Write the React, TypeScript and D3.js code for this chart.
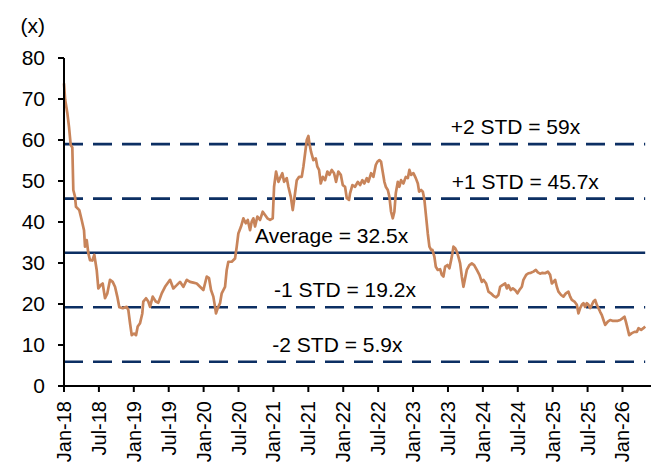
import React from "react";
import * as d3 from "d3";

// Months elapsed since Jan-2018, and forward P/E multiple (x)
const monthOffsets = [
  0.0, 0.2, 0.57, 0.86, 1.15, 1.43, 1.6, 1.89, 2.06, 2.63, 3.04, 3.44, 3.61, 3.9, 4.18, 4.47, 4.87, 5.21, 5.62, 5.9,
  6.31, 6.65, 7.05, 7.45, 7.91, 8.37, 8.77, 9.16, 9.51, 10.09, 10.78, 11.06, 11.35, 11.64, 12.04, 12.38, 12.67, 13.07, 13.46, 13.63,
  14.1, 14.49, 14.79, 15.25, 15.77, 16.21, 16.8, 17.37, 18.23, 18.79, 19.38, 19.94, 20.51, 21.1, 21.66, 22.23, 22.82, 23.38, 23.95, 24.24,
  24.54, 24.93, 25.27, 25.67, 25.96, 26.13, 26.43, 26.82, 27.11, 27.68, 27.97, 28.25, 28.83, 29.4, 29.69, 29.97, 30.43, 30.83, 31.24, 31.59,
  31.98, 32.27, 32.55, 32.84, 33.24, 33.7, 34.16, 34.56, 34.96, 35.42, 35.88, 36.11, 36.45, 36.85, 37.14, 37.53, 37.83, 38.29, 38.57, 38.98,
  39.32, 39.6, 40.01, 40.41, 40.87, 41.15, 41.44, 41.73, 42.01, 42.18, 42.47, 42.86, 43.28, 43.55, 43.84, 44.14, 44.48, 44.88, 45.27, 45.62,
  46.03, 46.42, 46.77, 47.16, 47.58, 47.92, 48.31, 48.61, 49.0, 49.17, 49.57, 50.03, 50.5, 50.89, 51.29, 51.63, 52.05, 52.32, 52.79, 53.18,
  53.59, 53.87, 54.21, 54.5, 54.73, 55.07, 55.31, 55.66, 55.93, 56.22, 56.52, 56.79, 57.03, 57.38, 57.65, 57.94, 58.34, 58.75, 59.1, 59.37,
  59.66, 60.06, 60.47, 60.82, 61.04, 61.38, 61.68, 61.95, 62.24, 62.53, 62.81, 63.1, 63.33, 63.67, 63.91, 64.25, 64.65, 64.94, 65.22, 65.51,
  65.91, 66.25, 66.54, 66.77, 66.94, 67.23, 67.52, 67.8, 68.09, 68.38, 68.66, 68.95, 69.24, 69.69, 70.1, 70.5, 70.96, 71.41, 71.82, 72.1,
  72.56, 72.96, 73.37, 73.81, 74.28, 74.67, 74.97, 75.36, 75.83, 76.12, 76.39, 76.8, 77.15, 77.54, 77.94, 78.28, 78.7, 78.97, 79.44, 79.83,
  80.24, 80.69, 81.1, 81.45, 81.84, 82.24, 82.7, 83.17, 83.56, 83.86, 84.13, 84.42, 84.71, 84.99, 85.45, 85.85, 86.26, 86.71, 87.0, 87.29,
  87.74, 88.15, 88.43, 88.72, 89.01, 89.29, 89.58, 89.87, 90.15, 90.44, 90.73, 91.01, 91.3, 91.59, 91.87, 92.16, 92.45, 92.73, 93.02, 93.48,
  93.88, 94.27, 94.74, 95.2, 95.6, 95.99, 96.34, 96.58, 96.86, 97.15, 97.61, 98.07, 98.47, 98.75, 99.21, 99.6, 99.9,
];

const peValues = [
  73.8, 69.8, 66.6, 63.2, 58.8, 58.2, 47.8, 46.2, 43.7, 42.9, 40.5, 38.0, 34.0, 35.6, 32.4, 30.7, 30.6, 32.0, 28.3, 23.8,
  24.6, 25.0, 21.4, 22.6, 25.9, 25.4, 24.2, 21.8, 19.2, 19.0, 19.3, 18.5, 15.3, 12.4, 12.8, 12.4, 14.5, 15.3, 17.7, 20.6,
  21.4, 20.6, 19.3, 21.8, 20.6, 20.3, 22.6, 24.2, 25.9, 23.8, 24.6, 25.4, 24.2, 25.9, 25.4, 25.2, 25.0, 24.2, 23.4, 25.0,
  26.7, 26.3, 23.4, 21.8, 19.3, 17.7, 19.0, 20.2, 22.6, 24.2, 28.3, 30.3, 30.3, 31.1, 34.0, 37.2, 38.9, 40.9, 39.7, 40.5,
  38.0, 40.1, 40.9, 38.9, 41.3, 40.5, 42.5, 41.7, 40.9, 40.5, 40.9, 48.6, 52.3, 49.8, 50.7, 51.9, 49.8, 50.7, 48.6, 46.2,
  42.9, 45.8, 50.2, 51.0, 51.0, 53.5, 56.7, 60.0, 61.0, 59.2, 57.1, 55.1, 55.5, 53.5, 52.7, 49.4, 51.0, 50.2, 52.3, 51.5,
  52.7, 51.9, 49.8, 52.3, 51.5, 49.0, 48.6, 45.8, 45.4, 47.0, 49.0, 48.6, 49.8, 49.0, 50.2, 49.4, 50.7, 49.8, 51.9, 51.0,
  53.9, 54.7, 55.1, 54.7, 52.7, 49.8, 48.6, 47.8, 46.2, 42.5, 40.9, 42.5, 47.0, 49.8, 48.6, 50.2, 49.4, 51.0, 50.7, 52.7,
  51.5, 51.9, 50.7, 49.4, 47.4, 47.8, 47.4, 45.4, 41.3, 37.2, 34.0, 33.2, 33.2, 31.5, 29.1, 28.3, 28.5, 27.1, 26.7, 29.1,
  29.5, 28.7, 30.7, 32.4, 34.0, 33.6, 32.8, 31.5, 29.9, 26.7, 24.2, 26.3, 28.3, 29.5, 29.9, 29.5, 28.3, 27.1, 25.4, 25.9,
  25.0, 23.0, 22.6, 22.0, 21.6, 22.2, 24.2, 24.6, 25.0, 23.8, 24.6, 23.4, 23.8, 23.4, 22.6, 23.4, 24.2, 25.9, 27.1, 27.5,
  27.6, 27.9, 28.3, 27.7, 27.4, 27.6, 27.5, 27.9, 27.1, 25.0, 25.4, 25.9, 24.2, 23.0, 22.2, 21.8, 22.6, 23.0, 21.8, 21.0,
  20.6, 19.8, 17.7, 19.0, 19.8, 20.2, 19.3, 20.2, 19.8, 19.0, 19.8, 20.6, 21.0, 19.8, 19.0, 18.1, 17.3, 16.1, 14.9, 15.7,
  16.1, 15.9, 15.9, 15.9, 16.1, 16.5, 16.9, 15.7, 14.1, 12.4, 12.9, 13.2, 13.2, 14.1, 13.7, 14.1, 14.5,
];

const xTickLabels = [
  "Jan-18", "Jul-18", "Jan-19", "Jul-19", "Jan-20", "Jul-20", "Jan-21", "Jul-21", "Jan-22",
  "Jul-22", "Jan-23", "Jul-23", "Jan-24", "Jul-24", "Jan-25", "Jul-25", "Jan-26",
];
const xTickMonths = [0, 6, 12, 18, 24, 30, 36, 42, 48, 54, 60, 66, 72, 78, 84, 90, 96];
const yTicks = [0, 10, 20, 30, 40, 50, 60, 70, 80];

const bandValues = [59, 45.7, 32.5, 19.2, 5.9];
const bandLabels = ["+2 STD = 59x", "+1 STD = 45.7x", "Average = 32.5x", "-1 STD = 19.2x", "-2 STD = 5.9x"];
const bandDashed = [true, true, false, true, true];
const bandLabelMonth = [77.6, 79.3, 46.0, 48.3, 47.0];

const FONT = "'Liberation Sans', Arial, sans-serif";
const NAVY = "#0C2F63";
const LINE = "#C8845A";
const FS = 21;
const FS_X = 20;

export default function App() {
  const x = d3.scaleLinear().domain([0, 100.9]).range([64, 651]);
  const y = d3.scaleLinear().domain([0, 80]).range([386, 58]);
  const pts = monthOffsets.map((m, i) => [m, peValues[i]] as [number, number]);
  const line = d3
    .line<[number, number]>()
    .x((d) => x(d[0]))
    .y((d) => y(d[1]));
  const lastM = monthOffsets[monthOffsets.length - 1];

  return (
    <svg
      width={666}
      height={464}
      style={{ position: "absolute", left: 0, top: 0, background: "#fff" }}
      fontFamily={FONT}
    >
      {bandValues.map((v, i) => (
        <line
          key={"b" + i}
          x1={x(0)}
          x2={x(lastM)}
          y1={y(v)}
          y2={y(v)}
          stroke={NAVY}
          strokeWidth={bandDashed[i] ? 2.6 : 2.4}
          strokeDasharray={bandDashed[i] ? "19 10" : undefined}
        />
      ))}
      <path d={line(pts) || ""} fill="none" stroke={LINE} strokeWidth={2.7} strokeLinejoin="round" />
      {bandLabels.map((t, i) => (
        <text
          key={"l" + i}
          x={x(bandLabelMonth[i])}
          y={y(bandValues[i]) - 10}
          textAnchor="middle"
          fontSize={FS}
          fill="#000"
        >
          {t}
        </text>
      ))}
      <line x1={x(0)} x2={x(0)} y1={y(80)} y2={y(0)} stroke="#000" strokeWidth={2} />
      {yTicks.map((t) => (
        <g key={"y" + t}>
          <line x1={x(0) - 6} x2={x(0)} y1={y(t)} y2={y(t)} stroke="#000" strokeWidth={2} />
          <text x={45} y={y(t)} dy="0.35em" textAnchor="end" fontSize={FS} fill="#000">
            {t}
          </text>
        </g>
      ))}
      <text x={45} y={26} dy="0.35em" textAnchor="end" fontSize={FS} fill="#000">
        (x)
      </text>
      <line x1={x(0)} x2={x(100.9)} y1={y(0)} y2={y(0)} stroke="#000" strokeWidth={2} />
      {xTickMonths.map((m, i) => (
        <g key={"x" + m}>
          <line x1={x(m)} x2={x(m)} y1={y(0)} y2={y(0) + 6} stroke="#000" strokeWidth={2} />
          <text
            transform={`translate(${x(m)},${y(0) + 15}) rotate(-90)`}
            textAnchor="end"
            dy="0.35em"
            fontSize={FS_X}
            fill="#000"
          >
            {xTickLabels[i]}
          </text>
        </g>
      ))}
    </svg>
  );
}
